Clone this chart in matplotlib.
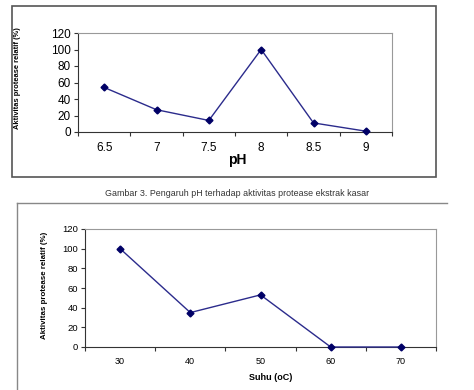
import matplotlib.pyplot as plt
from matplotlib.patches import Rectangle
from matplotlib.lines import Line2D

# pH data
ph_labels = ["6.5", "7", "7.5", "8", "8.5", "9"]
ph_activity = [54, 27, 14, 100, 11, 1]

# temperature data
suhu_labels = ["30", "40", "50", "60", "70"]
suhu_activity = [100, 35, 53, 0, 0]

yticks = [0, 20, 40, 60, 80, 100, 120]

W, H = 474, 390
plt.rcParams["font.family"] = ["Liberation Sans", "DejaVu Sans"]

fig = plt.figure(figsize=(W / 100, H / 100), dpi=100)


def px_axes(left, top, right, bottom):
    return fig.add_axes([left / W, 1 - bottom / H, (right - left) / W, (bottom - top) / H])


def style_axes(ax, labels, values, ytick_fs, xtick_fs, lw, ms):
    n = len(labels)
    ax.plot(range(n), values, color="#2b2b8c", lw=lw, marker="D", ms=ms,
            mfc="#000066", mec="#000066", zorder=3, clip_on=False)
    ax.set_xlim(-0.5, n - 0.5)
    ax.set_ylim(0, 120)
    ax.set_yticks(yticks)
    ax.set_yticklabels([str(v) for v in yticks], fontsize=ytick_fs)
    ax.set_xticks([i - 0.5 for i in range(n + 1)])
    ax.set_xticklabels([])
    ax.set_xticks(range(n), minor=True)
    ax.set_xticklabels(labels, minor=True, fontsize=xtick_fs)
    ax.tick_params(axis="x", which="major", length=3, direction="out", color="#333333")
    ax.tick_params(axis="x", which="minor", length=0, pad=7)
    ax.tick_params(axis="y", length=3, direction="out", color="#333333", pad=2)
    for s in ["top", "right"]:
        ax.spines[s].set_color("#999999")
        ax.spines[s].set_linewidth(0.8)
    for s in ["left", "bottom"]:
        ax.spines[s].set_color("#333333")
        ax.spines[s].set_linewidth(0.8)


# top chart
ax1 = px_axes(78, 33, 392, 132)
style_axes(ax1, ph_labels, ph_activity, 8.5, 8.5, 1.0, 3.5)
fig.text(237 / W, 1 - 160 / H, "pH", ha="center", va="center",
         fontsize=10, fontweight="bold")
fig.text(18 / W, 1 - 78 / H, "Aktivitas protease relatif (%)", rotation=90,
         ha="center", va="center", fontsize=5.4, fontweight="bold")
fig.add_artist(Rectangle((12 / W, 1 - 177 / H), (436 - 12) / W, (177 - 6) / H,
                         transform=fig.transFigure, fill=False, ec="#555555", lw=1.2))

fig.text(237 / W, 1 - 194 / H, "Gambar 3. Pengaruh pH terhadap aktivitas protease ekstrak kasar",
         ha="center", va="center", fontsize=6.4, color="#333333")

# bottom chart
ax2 = px_axes(85, 229, 436, 347)
style_axes(ax2, suhu_labels, suhu_activity, 6.8, 6.5, 1.0, 3.5)
fig.text(271 / W, 1 - 377 / H, "Suhu (oC)", ha="center", va="center",
         fontsize=6.5, fontweight="bold")
fig.text(45 / W, 1 - 285 / H, "Aktivitas protease relatif (%)", rotation=90,
         ha="center", va="center", fontsize=5.7, fontweight="bold")
fig.add_artist(Line2D([17 / W, 447 / W], [1 - 203 / H, 1 - 203 / H],
                      transform=fig.transFigure, color="#888888", lw=1.0))
fig.add_artist(Line2D([17 / W, 17 / W], [1 - 203 / H, 0],
                      transform=fig.transFigure, color="#888888", lw=1.0))

fig.savefig("out.png", dpi=100)
